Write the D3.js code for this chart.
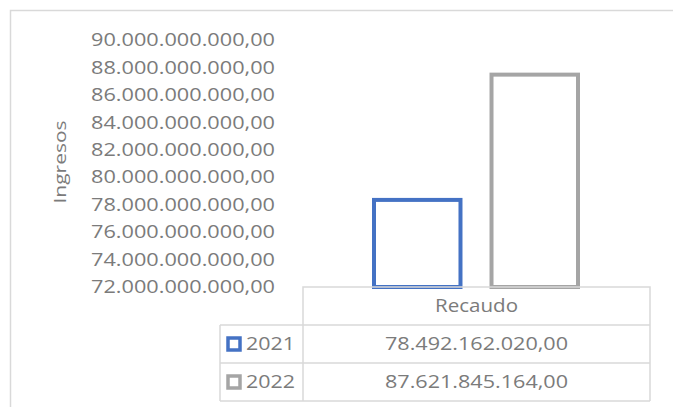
<!DOCTYPE html>
<html>
<head>
<meta charset="utf-8">
<script src="https://cdn.jsdelivr.net/npm/d3@7"></script>
<style>
	body { margin: 0; background: #fff; }
	text { font-family: 'Open Sans', 'Liberation Sans', sans-serif; fill: #7b7b7b; }
</style>
</head>
<body>
<div id="chart"></div>
<script>
// data
var categories = [ 'Recaudo' ];
var series = [ '2021', '2022' ];
var values = [ 78492162020, 87621845164 ];
var colors = [ '#4472c4', '#a5a5a5' ];
var yTicks = [ 72e9, 74e9, 76e9, 78e9, 80e9, 82e9, 84e9, 86e9, 88e9, 90e9 ];
var yTitle = 'Ingresos';

var width = 673;
var height = 407;

var svg = d3.select('div#chart').append('svg').attr('width', width).attr('height', height);

// outer frame (only top and left visible)
svg.append('path')
	.attr('d', 'M10.5,407V10.5H673')
	.attr('fill', 'none')
	.attr('stroke', '#d9d9d9')
	.attr('stroke-width', 1.5);

// es-CO style number format: 90.000.000.000,00
var loc = d3.formatLocale({ decimal: ',', thousands: '.', grouping: [ 3 ], currency: [ '$', '' ] });
var fmt = loc.format(',.2f');

var y = d3.scaleLinear().domain([ 72e9, 90e9 ]).range([ 287, 40 ]);

var x = d3.scaleBand().domain(categories).range([ 303, 650 ]);
var xInner = d3.scaleBand().domain(series).range([ 372, 580 ]).paddingInner(0.23);

// y axis labels
var yAxis = d3.axisLeft(y).tickValues(yTicks).tickFormat(fmt).tickSize(0).tickPadding(0);
var gy = svg.append('g').attr('transform', 'translate(275,0)').call(yAxis);
gy.select('.domain').remove();
gy.selectAll('text')
	.attr('font-size', 18)
	.attr('font-family', null)
	.attr('fill', null)
	.attr('textLength', 184)
	.attr('lengthAdjust', 'spacingAndGlyphs');

svg.append('text')
	.attr('transform', 'translate(66,162) rotate(-90)')
	.attr('text-anchor', 'middle')
	.attr('font-size', 16)
	.attr('textLength', 83)
	.attr('lengthAdjust', 'spacingAndGlyphs')
	.text(yTitle);

// bars
svg.append('g')
	.selectAll('rect')
	.data(values)
	.enter()
	.append('rect')
	.attr('x', (d, i) => xInner(series[i]) + 2)
	.attr('y', (d) => y(d) + 2)
	.attr('width', xInner.bandwidth() - 4)
	.attr('height', (d) => y(72e9) - y(d) - 2)
	.attr('fill', '#fff')
	.attr('stroke', (d, i) => colors[i])
	.attr('stroke-width', 4);

// data table
var rowH = 38;
var tableTop = 287;
var legLeft = 220;
var right = x.range()[1];
var left = x.range()[0];
var grid = svg.append('g').attr('fill', 'none').attr('stroke', '#d9d9d9').attr('stroke-width', 1.5);
grid.append('path').attr('d', `M${left},${tableTop + rowH * 3}V${tableTop}H${right}V${tableTop + rowH * 3}`);
[ 1, 2, 3 ].forEach((k) => {
	grid.append('path').attr('d', `M${legLeft},${tableTop + rowH * k}H${right}`);
});
grid.append('path').attr('d', `M${legLeft},${tableTop + rowH}V${tableTop + rowH * 3}`);

svg.append('text')
	.attr('x', x(categories[0]) + x.bandwidth() / 2)
	.attr('y', tableTop + rowH / 2)
	.attr('dy', '0.35em')
	.attr('text-anchor', 'middle')
	.attr('font-size', 18)
	.attr('textLength', 83)
	.attr('lengthAdjust', 'spacingAndGlyphs')
	.text(categories[0]);

var rows = svg.append('g').selectAll('g').data(series).enter().append('g')
	.attr('transform', (d, i) => `translate(0,${tableTop + rowH * (i + 1) + rowH / 2})`);

rows.append('rect')
	.attr('x', 228)
	.attr('y', -6)
	.attr('width', 12)
	.attr('height', 12)
	.attr('fill', '#fff')
	.attr('stroke', (d, i) => colors[i])
	.attr('stroke-width', 3.5);

rows.append('text')
	.attr('x', 246)
	.attr('dy', '0.35em')
	.attr('font-size', 18)
	.attr('textLength', 49)
	.attr('lengthAdjust', 'spacingAndGlyphs')
	.text((d) => d);

rows.append('text')
	.attr('x', x(categories[0]) + x.bandwidth() / 2)
	.attr('dy', '0.35em')
	.attr('text-anchor', 'middle')
	.attr('font-size', 18)
	.attr('textLength', 183)
	.attr('lengthAdjust', 'spacingAndGlyphs')
	.text((d, i) => fmt(values[i]));
</script>
</body>
</html>
